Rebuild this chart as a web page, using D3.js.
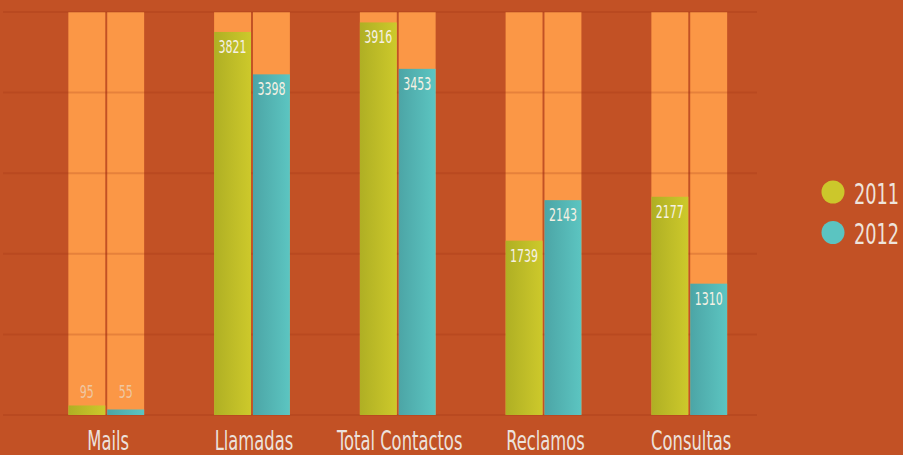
<!DOCTYPE html>
<html>
<head>
<meta charset="utf-8">
<script src="https://cdn.jsdelivr.net/npm/d3@7"></script>
<style>
  html, body { margin: 0; padding: 0; background: #C25125; }
  svg { display: block; }
  text { font-family: "Liberation Sans Narrow", "DejaVu Sans Condensed", sans-serif; }
</style>
</head>
<body>
<div id="chart"></div>
<script>
var categories = ['Mails', 'Llamadas', 'Total Contactos', 'Reclamos', 'Consultas'];
var years = ['2011', '2012'];
var values2011 = [95, 3821, 3916, 1739, 2177];
var values2012 = [55, 3398, 3453, 2143, 1310];
var yTicks = [0, 800, 1600, 2400, 3200, 4000];

var width = 903, height = 455;
var colors = {
    '2011': ['#AFAF24', '#CDC92B'],
    '2012': ['#4CA5A6', '#5CC5C1']
};
var legendColors = { '2011': '#CCC72B', '2012': '#5BC4C1' };

var svg = d3.select('#chart')
    .append('svg')
    .attr('width', width)
    .attr('height', height);

svg.append('rect')
    .attr('width', width)
    .attr('height', height)
    .attr('fill', '#C25125');

var defs = svg.append('defs');
years.forEach(function(yr) {
    var grad = defs.append('linearGradient')
        .attr('id', 'grad' + yr)
        .attr('x1', 0).attr('x2', 1).attr('y1', 0).attr('y2', 0);
    grad.append('stop').attr('offset', '0%').attr('stop-color', colors[yr][0]);
    grad.append('stop').attr('offset', '100%').attr('stop-color', colors[yr][1]);
});

var x = d3.scaleBand()
    .domain(categories)
    .range([29, 766.5])
    .paddingInner(0.48)
    .paddingOuter(0.27);

var xInner = d3.scaleBand()
    .domain(years)
    .range([0, x.bandwidth()])
    .paddingInner(0.05);

var y = d3.scaleLinear()
    .domain([0, 4020])
    .range([415, 12]);

var rows = categories.map(function(c, i) {
    return { cat: c, vals: [
        { year: '2011', value: values2011[i] },
        { year: '2012', value: values2012[i] }
    ]};
});

var groups = svg.append('g')
    .selectAll('g')
    .data(rows)
    .join('g')
    .attr('transform', function(d) { return 'translate(' + x(d.cat) + ',0)'; });

// background full-height bars
groups.selectAll('rect.bg')
    .data(function(d) { return d.vals; })
    .join('rect')
    .attr('class', 'bg')
    .attr('x', function(d) { return xInner(d.year); })
    .attr('width', xInner.bandwidth())
    .attr('y', y.range()[1])
    .attr('height', y.range()[0] - y.range()[1])
    .attr('fill', '#FB9746');

// gridlines
var yGrid = d3.scaleLinear().domain([0, 4000]).range([415, 12]);
svg.append('g')
    .selectAll('line')
    .data(yTicks)
    .join('line')
    .attr('x1', 3)
    .attr('x2', 757)
    .attr('y1', function(d) { return yGrid(d); })
    .attr('y2', function(d) { return yGrid(d); })
    .attr('stroke', 'rgba(150,45,15,0.2)')
    .attr('stroke-width', 2);

// value bars
var bars = svg.append('g')
    .selectAll('g')
    .data(rows)
    .join('g')
    .attr('transform', function(d) { return 'translate(' + x(d.cat) + ',0)'; });

bars.selectAll('rect')
    .data(function(d) { return d.vals; })
    .join('rect')
    .attr('x', function(d) { return xInner(d.year); })
    .attr('width', xInner.bandwidth())
    .attr('y', function(d) { return y(d.value); })
    .attr('height', function(d) { return y(0) - y(d.value); })
    .attr('fill', function(d) { return 'url(#grad' + d.year + ')'; });

bars.selectAll('text')
    .data(function(d) { return d.vals; })
    .join('text')
    .attr('transform', function(d) {
        var small = y(0) - y(d.value) < 30;
        var ty = small ? y(0) - 17 : y(d.value) + 21;
        return 'translate(' + (xInner(d.year) + xInner.bandwidth() / 2) + ',' + ty + ') scale(0.72,1)';
    })
    .attr('text-anchor', 'middle')
    .attr('font-size', '17px')
    .attr('fill', function(d) { return y(0) - y(d.value) < 30 ? '#EFC7A2' : '#F6F1E4'; })
    .text(function(d) { return d.value; });

// category labels
svg.append('g')
    .selectAll('text')
    .data(categories)
    .join('text')
    .attr('transform', function(d) {
        return 'translate(' + (x(d) + x.bandwidth() / 2 + 2) + ',450) scale(0.7,1)';
    })
    .attr('text-anchor', 'middle')
    .attr('font-size', '26px')
    .attr('fill', '#ECE1DC')
    .text(function(d) { return d; });

// legend
var legend = svg.append('g')
    .selectAll('g')
    .data(years)
    .join('g')
    .attr('transform', function(d, i) { return 'translate(833,' + (192 + i * 40.5) + ')'; });

legend.append('circle')
    .attr('r', 11.5)
    .attr('fill', function(d) { return legendColors[d]; });

legend.append('text')
    .attr('transform', 'translate(21,11.5) scale(0.68,1)')
    .attr('font-size', '29px')
    .attr('fill', '#EEE4DC')
    .text(function(d) { return d; });
</script>
</body>
</html>
